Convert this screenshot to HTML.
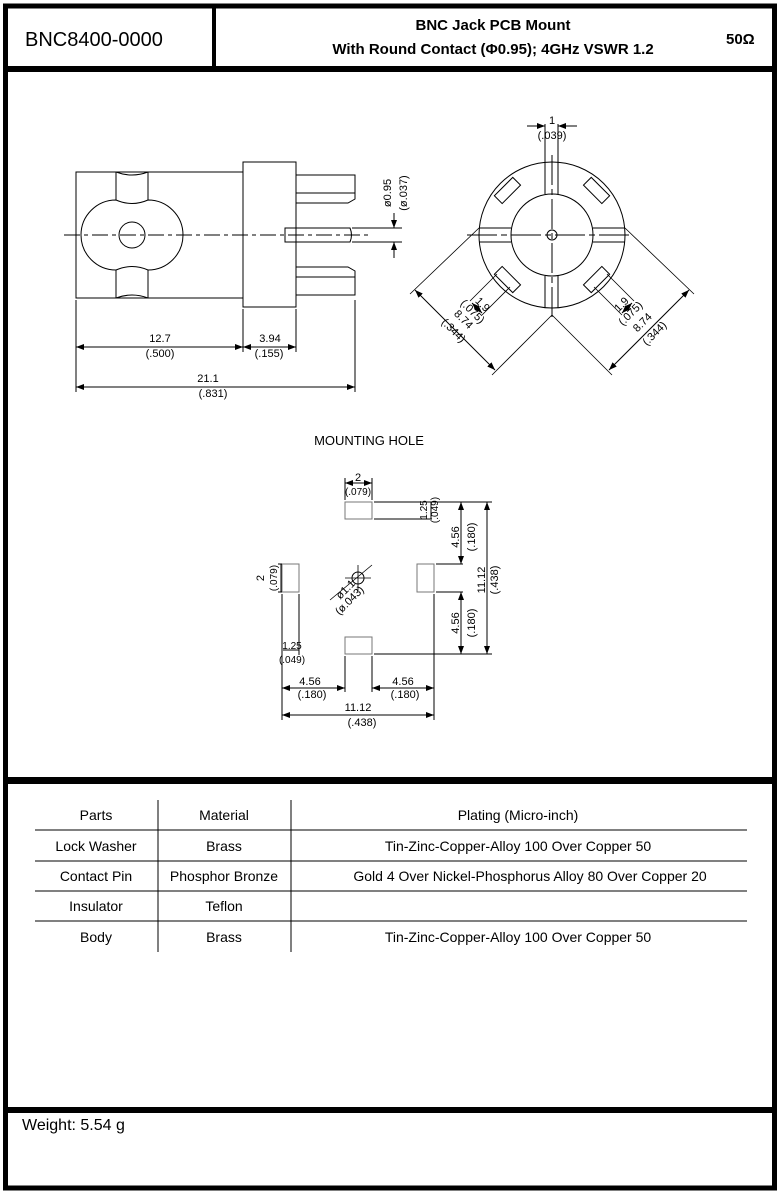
<!DOCTYPE html>
<html><head><meta charset="utf-8"><style>
html,body{margin:0;padding:0;background:#fff}
svg{display:block}
text{font-family:"Liberation Sans",Arial,sans-serif;fill:#000}
</style></head><body>
<svg width="780" height="1194" viewBox="0 0 780 1194" xmlns="http://www.w3.org/2000/svg">
<defs>
<marker id="a" markerWidth="8" markerHeight="6" refX="8" refY="3" orient="auto-start-reverse" markerUnits="userSpaceOnUse"><path d="M0,0 L8,3 L0,6z" fill="#000"/></marker>
</defs>
<!-- frame -->
<rect x="5.5" y="6" width="769" height="1182" fill="none" stroke="#000" stroke-width="5"/>
<rect x="3" y="66" width="774" height="6" fill="#000"/>
<rect x="212" y="6" width="4" height="62" fill="#000"/>
<rect x="3" y="777" width="774" height="7" fill="#000"/>
<rect x="3" y="1107" width="774" height="6" fill="#000"/>
<!-- header -->
<text x="25" y="46" font-size="20">BNC8400-0000</text>
<text x="493" y="30" font-size="15" font-weight="bold" text-anchor="middle">BNC Jack PCB Mount</text>
<text x="493" y="54" font-size="15" font-weight="bold" text-anchor="middle">With Round Contact (Φ0.95); 4GHz VSWR 1.2</text>
<text x="726" y="44" font-size="15" font-weight="bold">50Ω</text>

<g fill="none" stroke="#000" stroke-width="1">
<!-- side view -->
<rect x="76" y="172" width="167" height="126"/>
<path d="M116,172 V200 M148,172 V200 M116,270 V298 M148,270 V298"/>
<path d="M116,172 Q132,178 148,172 M116,298 Q132,292 148,298"/>
<path d="M116,200 A33,33 0 0,0 116,270 M148,200 A33,33 0 0,1 148,270 M116,200 Q132,207 148,200 M116,270 Q132,263 148,270"/>
<circle cx="132" cy="235" r="13"/>
<rect x="243" y="162" width="53" height="145"/>
<path d="M296,175 H355 V199 L348,203 H296 M296,193 H355"/>
<path d="M296,267 H348 L355,271 V295 H296 M296,277 H355"/>
<path d="M285,228 H350 Q353,235 350,242 H285 Z"/>
<path d="M64,235 H368" stroke-dasharray="16,4,4,4"/>
<!-- dims side -->
<path d="M352,228 H402 M352,242 H402"/>
<path d="M394,213 V228" marker-end="url(#a)"/>
<path d="M394,258 V242" marker-end="url(#a)"/>
<path d="M76,300 V392 M243,309 V352 M296,309 V352 M355,300 V392"/>
<path d="M76,347 H243" marker-start="url(#a)" marker-end="url(#a)"/>
<path d="M243,347 H296" marker-start="url(#a)" marker-end="url(#a)"/>
<path d="M76,387 H355" marker-start="url(#a)" marker-end="url(#a)"/>

<!-- front view -->
<circle cx="552" cy="235" r="73"/>
<circle cx="552" cy="235" r="41"/>
<circle cx="552" cy="235" r="5"/>
<path d="M545,162 V194 M558,162 V194 M545,276 V308 M558,276 V308"/>
<path d="M479,228 H511 M479,242 H511 M593,228 H625 M593,242 H625"/>
<path d="M552,155 V318 M467,235 H632" stroke-dasharray="30,4,6,4"/>
<g transform="translate(552,235)">
<rect x="-13" y="-5.5" width="26" height="11" transform="rotate(45) translate(0,-63) "/>
<rect x="-13" y="-5.5" width="26" height="11" transform="rotate(-45) translate(0,-63)"/>
<rect x="-13" y="-5.5" width="26" height="11" transform="rotate(135) translate(0,-63)"/>
<rect x="-13" y="-5.5" width="26" height="11" transform="rotate(-135) translate(0,-63)"/>
</g>
<path d="M545,124 V162 M558,124 V162"/>
<path d="M527,126 H545" marker-end="url(#a)"/>
<path d="M577,126 H558" marker-end="url(#a)"/>
<path d="M479,228 L410,294 M552,315 L492,375 M625,228 L694,294 M552,315 L612,375" stroke-width="0.8"/>
<path d="M415,290 L495,370" marker-start="url(#a)" marker-end="url(#a)"/>
<path d="M689,290 L609,370" marker-start="url(#a)" marker-end="url(#a)"/>
<path d="M497,274 L470,301 M510,287 L482,315 M607,274 L634,301 M594,287 L622,315" stroke-width="0.8"/>
<path d="M472,303 L482,313" marker-start="url(#a)" marker-end="url(#a)"/>
<path d="M632,303 L622,313" marker-start="url(#a)" marker-end="url(#a)"/>

<!-- mounting hole -->
<g stroke="#777">
<rect x="345" y="502" width="27" height="17"/>
<rect x="282" y="564" width="17" height="28"/>
<rect x="417" y="564" width="17" height="28"/>
<rect x="345" y="637" width="27" height="17"/>
</g>
<circle cx="358" cy="578" r="6"/>
<path d="M345,578 H371 M358,565 V591" stroke-width="0.8"/>
<path d="M330,600 L372,565" stroke-width="0.8"/>
<path d="M345,478 V500 M372,478 V500"/>
<path d="M345,483 H372" marker-start="url(#a)" marker-end="url(#a)"/>
<path d="M374,502 H492 M374,519 H432 M436,564 H463 M436,592 H463 M374,654 H492"/>
<path d="M431,502 V519"/>
<path d="M461,502 V564" marker-start="url(#a)" marker-end="url(#a)"/>
<path d="M461,592 V654" marker-start="url(#a)" marker-end="url(#a)"/>
<path d="M487,502 V654" marker-start="url(#a)" marker-end="url(#a)"/>
<path d="M278,564 H282 M278,592 H282 M281,564 V592"/>
<path d="M282,594 V720 M299,594 V655 M345,656 V692 M372,656 V692 M434,594 V720"/>
<path d="M282,688 H345" marker-start="url(#a)" marker-end="url(#a)"/>
<path d="M372,688 H434" marker-start="url(#a)" marker-end="url(#a)"/>
<path d="M282,715 H434" marker-start="url(#a)" marker-end="url(#a)"/>
<path d="M283,650 H299"/>

<!-- table -->
<path d="M158,800 V952 M291,800 V952"/>
<path d="M35,830 H747 M35,861 H747 M35,891 H747 M35,921 H747"/>
</g>

<g font-size="11">
<text x="160" y="342" text-anchor="middle">12.7</text>
<text x="160" y="357" text-anchor="middle">(.500)</text>
<text x="270" y="342" text-anchor="middle">3.94</text>
<text x="269" y="357" text-anchor="middle">(.155)</text>
<text x="208" y="382" text-anchor="middle">21.1</text>
<text x="213" y="397" text-anchor="middle">(.831)</text>
<text transform="translate(391,193) rotate(-90)" text-anchor="middle">ø0.95</text>
<text transform="translate(407,193) rotate(-90)" text-anchor="middle">(ø.037)</text>
<text x="552" y="124" text-anchor="middle">1</text>
<text x="552" y="139" text-anchor="middle">(.039)</text>
<text transform="translate(461,322) rotate(45)" text-anchor="middle">8.74</text>
<text transform="translate(451,333) rotate(45)" text-anchor="middle">(.344)</text>
<text transform="translate(645,325) rotate(-45)" text-anchor="middle">8.74</text>
<text transform="translate(657,336) rotate(-45)" text-anchor="middle">(.344)</text>
<text transform="translate(480,307) rotate(45)" text-anchor="middle">1.9</text>
<text transform="translate(470,314) rotate(45)" text-anchor="middle">(.075)</text>
<text transform="translate(624,307) rotate(-45)" text-anchor="middle">1.9</text>
<text transform="translate(633,316) rotate(-45)" text-anchor="middle">(.075)</text>
</g>
<text x="369" y="445" font-size="13" text-anchor="middle">MOUNTING HOLE</text>
<g font-size="11">
<text x="358" y="481" text-anchor="middle">2</text>
<text x="358" y="495" text-anchor="middle" font-size="10">(.079)</text>
<text transform="translate(427,510) rotate(-90)" text-anchor="middle" font-size="10">1.25</text>
<text transform="translate(438,510) rotate(-90)" text-anchor="middle" font-size="10">(.049)</text>
<text transform="translate(459,537) rotate(-90)" text-anchor="middle">4.56</text>
<text transform="translate(475,537) rotate(-90)" text-anchor="middle">(.180)</text>
<text transform="translate(459,623) rotate(-90)" text-anchor="middle">4.56</text>
<text transform="translate(475,623) rotate(-90)" text-anchor="middle">(.180)</text>
<text transform="translate(485,580) rotate(-90)" text-anchor="middle">11.12</text>
<text transform="translate(498,580) rotate(-90)" text-anchor="middle">(.438)</text>
<text transform="translate(264,578) rotate(-90)" text-anchor="middle">2</text>
<text transform="translate(277,578) rotate(-90)" text-anchor="middle" font-size="10">(.079)</text>
<text transform="translate(348,592) rotate(-45)" text-anchor="middle">ø1.1</text>
<text transform="translate(352,603) rotate(-45)" text-anchor="middle">(ø.043)</text>
<text x="292" y="649" text-anchor="middle" font-size="10">1.25</text>
<text x="292" y="663" text-anchor="middle" font-size="10">(.049)</text>
<text x="310" y="685" text-anchor="middle">4.56</text>
<text x="312" y="698" text-anchor="middle">(.180)</text>
<text x="403" y="685" text-anchor="middle">4.56</text>
<text x="405" y="698" text-anchor="middle">(.180)</text>
<text x="358" y="711" text-anchor="middle">11.12</text>
<text x="362" y="726" text-anchor="middle">(.438)</text>
</g>
<g font-size="14" text-anchor="middle">
<text x="96" y="820">Parts</text><text x="224" y="820">Material</text><text x="518" y="820">Plating (Micro-inch)</text>
<text x="96" y="851">Lock Washer</text><text x="224" y="851">Brass</text><text x="518" y="851">Tin-Zinc-Copper-Alloy 100 Over Copper 50</text>
<text x="96" y="881">Contact Pin</text><text x="224" y="881">Phosphor Bronze</text><text x="530" y="881">Gold 4 Over Nickel-Phosphorus Alloy 80 Over Copper 20</text>
<text x="96" y="911">Insulator</text><text x="224" y="911">Teflon</text>
<text x="96" y="942">Body</text><text x="224" y="942">Brass</text><text x="518" y="942">Tin-Zinc-Copper-Alloy 100 Over Copper 50</text>
</g>
<text x="22" y="1130" font-size="16">Weight: 5.54 g</text>
</svg>
</body></html>
